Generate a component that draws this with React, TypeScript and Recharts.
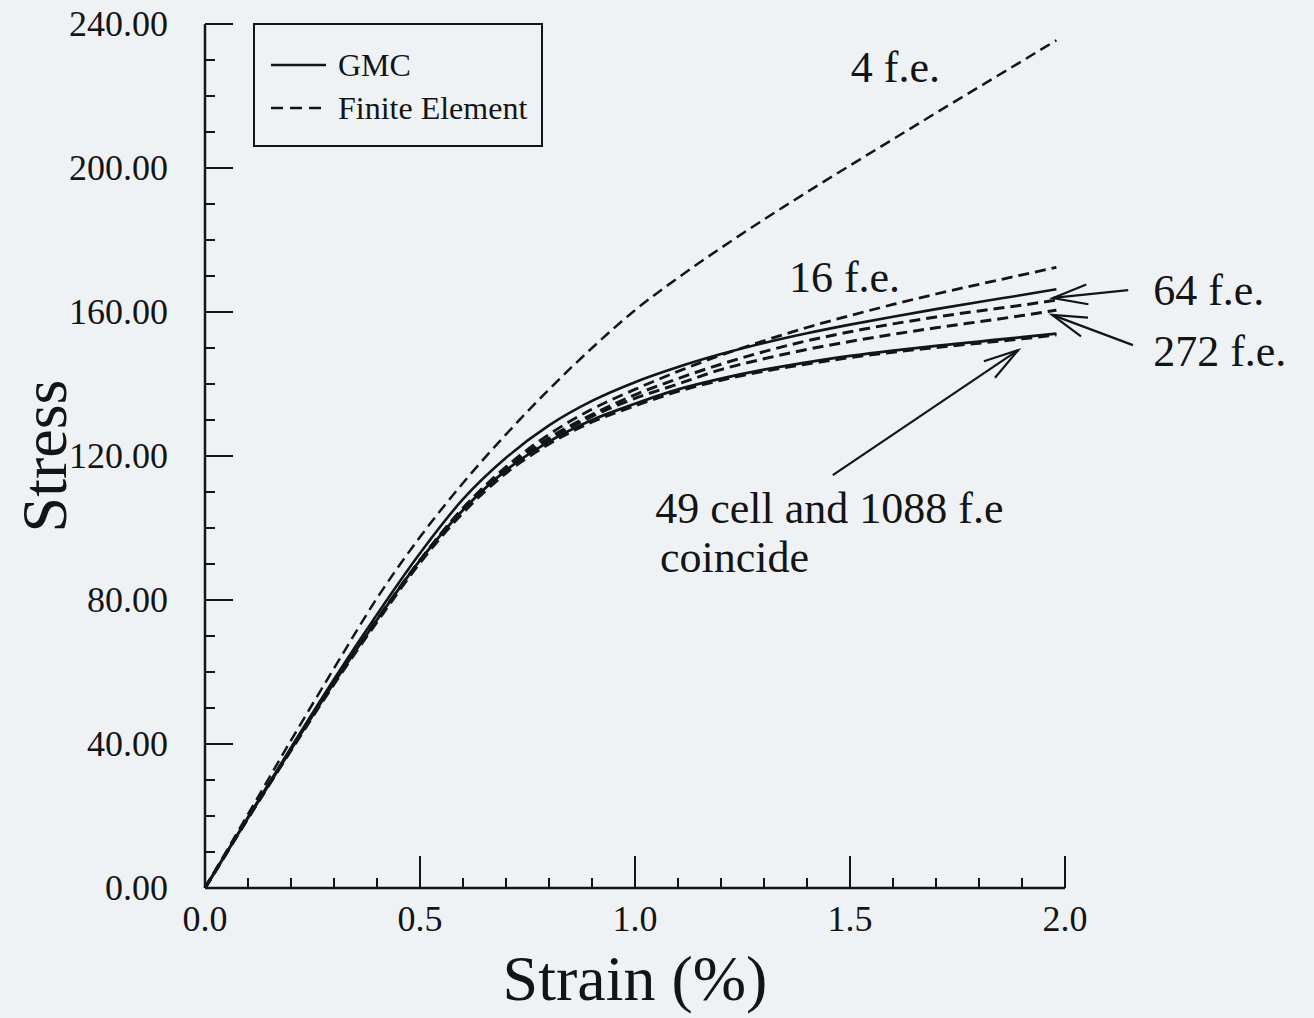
import React from 'react';
import {
  LineChart, Line, XAxis, YAxis, Legend, ReferenceLine, ReferenceDot
} from 'recharts';

// strain (%) sample points
const STRAIN = [0, 0.1, 0.2, 0.3, 0.4, 0.5, 0.6, 0.7, 0.8, 0.9, 1.0, 1.1, 1.2, 1.3, 1.4, 1.5, 1.6, 1.7, 1.8, 1.9, 1.98];

// stress curves
const FE_4 = [0, 20.5, 41, 61, 80.5, 97.5, 112.5, 126, 138.5, 150, 160.5, 169.5, 177.8, 185.7, 193.3, 200.7, 208, 215.3, 222.5, 229.7, 235.5];
const FE_16 = [0, 19.5, 38.5, 57, 74.5, 91, 105.5, 117, 126, 133, 138.5, 143.5, 148, 152, 155.7, 159, 162.1, 165, 167.7, 170.3, 172.4];
const GMC_COARSE = [0, 19.7, 39, 58, 76, 93, 108, 119.5, 128.5, 135.3, 140.5, 144.7, 148.3, 151.4, 154.1, 156.5, 158.7, 160.8, 162.8, 164.7, 166.3];
const FE_64 = [0, 19.5, 38.5, 57, 74.5, 91, 105.5, 116.5, 125, 131.5, 137, 141.5, 145.5, 149, 152, 154.5, 156.7, 158.6, 160.3, 161.9, 163.3];
const FE_272 = [0, 19.5, 38.5, 57, 74.5, 91, 105.3, 116, 124.5, 131, 136, 140, 144, 147, 149.6, 151.8, 153.8, 155.6, 157.3, 159, 160.5];
const GMC_49 = [0, 19.5, 38.5, 57, 74.5, 91, 105, 116, 124, 130, 134.5, 138.5, 141.5, 144, 146, 147.8, 149.3, 150.6, 151.8, 153, 154];
const FE_1088 = [0, 19.4, 38.3, 56.7, 74, 90.4, 104.3, 115.3, 123.4, 129.5, 134, 138, 141.1, 143.6, 145.6, 147.4, 148.9, 150.2, 151.4, 152.6, 153.7];

const X_TICKS = [0, 0.1, 0.2, 0.3, 0.4, 0.5, 0.6, 0.7, 0.8, 0.9, 1.0, 1.1, 1.2, 1.3, 1.4, 1.5, 1.6, 1.7, 1.8, 1.9, 2.0];
const Y_TICKS = [0, 10, 20, 30, 40, 50, 60, 70, 80, 90, 100, 110, 120, 130, 140, 150, 160, 170, 180, 190, 200, 210, 220, 230, 240];

const data = STRAIN.map((s, i) => ({
  strain: s,
  fe4: FE_4[i],
  fe16: FE_16[i],
  gmcCoarse: GMC_COARSE[i],
  fe64: FE_64[i],
  fe272: FE_272[i],
  gmc49: GMC_49[i],
  fe1088: FE_1088[i],
}));

const SERIES = [
  { key: 'fe4', dashed: true, width: 2.5 },
  { key: 'fe16', dashed: true, width: 2.8 },
  { key: 'gmcCoarse', dashed: false, width: 2.6 },
  { key: 'fe64', dashed: true, width: 3 },
  { key: 'fe272', dashed: true, width: 3 },
  { key: 'gmc49', dashed: false, width: 2.8 },
  { key: 'fe1088', dashed: true, width: 3.4 },
];

const LEGEND_ITEMS = [
  { label: 'GMC', dashed: false },
  { label: 'Finite Element', dashed: true },
];

// callouts, in data units
const NOTES = [
  { text: '4 f.e.', x: 1.502, y: 224 },
  { text: '16 f.e.', x: 1.358, y: 165.6 },
  { text: '64 f.e.', x: 2.205, y: 161.9 },
  { text: '272 f.e.', x: 2.205, y: 145 },
  { text: '49 cell and 1088 f.e', x: 1.047, y: 101.4 },
  { text: 'coincide', x: 1.058, y: 87.8 },
];

const ARROWS = [
  { from: { x: 2.147, y: 166.1 }, to: { x: 1.972, y: 163.9 } },
  { from: { x: 2.158, y: 150.8 }, to: { x: 1.970, y: 159.2 } },
  { from: { x: 1.460, y: 114.7 }, to: { x: 1.891, y: 149.4 } },
];

const FONT = '"Liberation Serif", "Times New Roman", Times, serif';
const INK = '#141414';

const XTick = (props: any) => {
  const { x, y, payload } = props;
  const v = payload.value;
  const major = Math.round(v * 10) % 5 === 0;
  return (
    <g>
      <line x1={x} x2={x} y1={y} y2={y - (major ? 32 : 10)} stroke={INK} strokeWidth={2} />
      {major && (
        <text x={x} y={y + 31} textAnchor="middle" dominantBaseline="central" fontFamily={FONT} fontSize={36} fill={INK}>
          {v.toFixed(1)}
        </text>
      )}
    </g>
  );
};

const YTick = (props: any) => {
  const { x, y, payload } = props;
  const v = payload.value;
  const major = v % 40 === 0;
  return (
    <g>
      <line x1={x} x2={x + (major ? 28 : 10)} y1={y} y2={y} stroke={INK} strokeWidth={2} />
      {major && (
        <text x={x - 37} y={y} textAnchor="end" dominantBaseline="central" fontFamily={FONT} fontSize={36} fill={INK}>
          {v.toFixed(2)}
        </text>
      )}
    </g>
  );
};

const StressLabel = (p: any) => {
  const vb = p.viewBox;
  const cx = vb.x + 66;
  const cy = vb.y + vb.height / 2;
  return (
    <text x={cx} y={cy} transform={`rotate(-90 ${cx} ${cy})`} textAnchor="middle" fontFamily={FONT} fontSize={64} fill={INK}>
      Stress
    </text>
  );
};

const arrowShape = (p: any) => {
  const { x1, y1, x2, y2 } = p;
  const ang = Math.atan2(y1 - y2, x1 - x2);
  const len = 36;
  const spread = 0.28;
  const a = [x2 + len * Math.cos(ang + spread), y2 + len * Math.sin(ang + spread)];
  const b = [x2 + len * Math.cos(ang - spread), y2 + len * Math.sin(ang - spread)];
  return (
    <g>
      <line x1={x1} y1={y1} x2={x2} y2={y2} stroke={INK} strokeWidth={2.2} />
      <polyline points={`${a[0]},${a[1]} ${x2},${y2} ${b[0]},${b[1]}`} fill="none" stroke={INK} strokeWidth={2.2} />
    </g>
  );
};

const LegendBox = () => (
  <div style={{ width: 290, height: 124, border: `2.5px solid ${INK}`, boxSizing: 'border-box', paddingTop: 18, fontFamily: FONT }}>
    {LEGEND_ITEMS.map((item) => (
      <div key={item.label} style={{ display: 'flex', alignItems: 'center', height: 43 }}>
        <svg width={73} height={10}>
          <line x1={16} x2={71} y1={5} y2={5} stroke={INK} strokeWidth={2.4} strokeDasharray={item.dashed ? '12 7' : undefined} />
        </svg>
        <span style={{ marginLeft: 10, fontSize: 32, color: INK, lineHeight: 1 }}>{item.label}</span>
      </div>
    ))}
  </div>
);

export default function App() {
  return (
    <div style={{ width: 1314, height: 1018, background: '#eff2f5' }}>
      <style>{'body{margin:0;background:#eff2f5}'}</style>
      <LineChart
        width={1314}
        height={1018}
        data={data}
        margin={{ top: 24, right: 249, bottom: 0, left: 0 }}
        style={{ fontFamily: FONT }}
      >
        <XAxis
          type="number"
          dataKey="strain"
          domain={[0, 2]}
          ticks={X_TICKS}
          interval={0}
          height={130}
          tickSize={0}
          tickMargin={0}
          tickLine={false}
          tick={<XTick />}
          axisLine={{ stroke: INK, strokeWidth: 2.5 }}
          label={{ value: 'Strain (%)', position: 'insideBottom', offset: 18, fill: INK, fontSize: 64, fontFamily: FONT }}
        />
        <YAxis
          type="number"
          domain={[0, 240]}
          ticks={Y_TICKS}
          interval={0}
          width={205}
          tickSize={0}
          tickMargin={0}
          tickLine={false}
          tick={<YTick />}
          axisLine={{ stroke: INK, strokeWidth: 2.5 }}
          label={{ content: StressLabel }}
        />
        <Legend verticalAlign="middle" align="center" content={() => <LegendBox />} wrapperStyle={{ left: 253, top: 23, width: 290, height: 124 }} />
        {SERIES.map((s) => (
          <Line
            key={s.key}
            type="monotone"
            dataKey={s.key}
            stroke={INK}
            strokeWidth={s.width}
            strokeDasharray={s.dashed ? '11 6' : undefined}
            dot={false}
            activeDot={false}
            legendType="none"
            isAnimationActive={false}
          />
        ))}
        {ARROWS.map((a, i) => (
          <ReferenceLine key={`arrow-${i}`} segment={[a.from, a.to]} ifOverflow="visible" shape={arrowShape} />
        ))}
        {NOTES.map((n) => (
          <ReferenceDot
            key={n.text}
            x={n.x}
            y={n.y}
            r={0}
            ifOverflow="visible"
            shape={(p: any) => (
              <text x={p.cx} y={p.cy} fontFamily={FONT} fontSize={44} fill={INK}>{n.text}</text>
            )}
          />
        ))}
      </LineChart>
    </div>
  );
}
